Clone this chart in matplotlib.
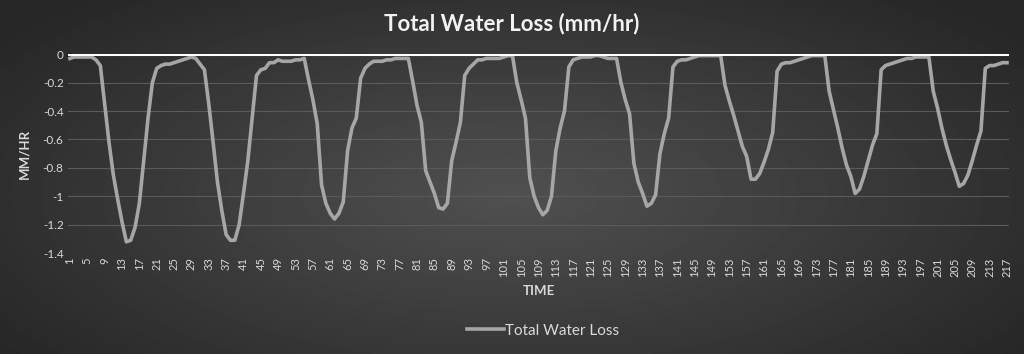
import numpy as np
import matplotlib.pyplot as plt

# data
time = list(range(1, 218))
water_loss = [
    -0.03, -0.02, -0.02, -0.02, -0.02, -0.02, -0.04, -0.08, -0.35, -0.62,
    -0.85, -1.02, -1.18, -1.32, -1.31, -1.22, -1.05, -0.75, -0.45, -0.20,
    -0.10, -0.08, -0.07, -0.07, -0.06, -0.05, -0.04, -0.03, -0.02, -0.03,
    -0.07, -0.11, -0.35, -0.62, -0.90, -1.10, -1.27, -1.31, -1.31, -1.20,
    -0.98, -0.75, -0.45, -0.15, -0.11, -0.10, -0.06, -0.06, -0.04, -0.05,
    -0.05, -0.05, -0.04, -0.04, -0.03, -0.18, -0.32, -0.49, -0.92, -1.05,
    -1.12, -1.16, -1.12, -1.04, -0.68, -0.52, -0.45, -0.17, -0.10, -0.07,
    -0.05, -0.05, -0.05, -0.04, -0.04, -0.03, -0.03, -0.03, -0.03, -0.19,
    -0.36, -0.48, -0.82, -0.90, -0.98, -1.08, -1.09, -1.05, -0.75, -0.62,
    -0.48, -0.15, -0.10, -0.07, -0.04, -0.04, -0.03, -0.03, -0.03, -0.03,
    -0.02, -0.01, -0.01, -0.20, -0.32, -0.45, -0.87, -1.00, -1.08, -1.13,
    -1.10, -1.00, -0.68, -0.52, -0.40, -0.09, -0.04, -0.03, -0.02, -0.02,
    -0.02, -0.01, -0.01, -0.02, -0.03, -0.03, -0.03, -0.20, -0.32, -0.42,
    -0.77, -0.90, -0.98, -1.07, -1.05, -0.99, -0.70, -0.56, -0.45, -0.09,
    -0.05, -0.04, -0.04, -0.03, -0.02, -0.01, -0.01, -0.01, -0.01, -0.01,
    -0.01, -0.22, -0.33, -0.43, -0.54, -0.65, -0.72, -0.88, -0.88, -0.84,
    -0.76, -0.67, -0.55, -0.12, -0.07, -0.06, -0.06, -0.05, -0.04, -0.03,
    -0.02, -0.01, -0.01, -0.01, -0.01, -0.26, -0.39, -0.52, -0.66, -0.78,
    -0.86, -0.98, -0.95, -0.86, -0.75, -0.64, -0.56, -0.11, -0.08, -0.07,
    -0.06, -0.05, -0.04, -0.03, -0.03, -0.02, -0.02, -0.02, -0.02, -0.26,
    -0.38, -0.52, -0.64, -0.74, -0.83, -0.93, -0.91, -0.85, -0.75, -0.64,
    -0.54, -0.10, -0.08, -0.08, -0.07, -0.06, -0.06,
]
x_ticks = list(range(1, 218, 4))
y_ticks = [0, -0.2, -0.4, -0.6, -0.8, -1, -1.2, -1.4]
y_tick_labels = ["0", "-0.2", "-0.4", "-0.6", "-0.8", "-1", "-1.2", "-1.4"]

plt.rcParams['font.family'] = ['Lato', 'DejaVu Sans']
txt = '#d9d9d9'

fig = plt.figure(figsize=(10.24, 3.54), dpi=100)

# radial gradient background
bg = fig.add_axes([0, 0, 1, 1], zorder=-10)
gx, gy = np.meshgrid(np.linspace(-1, 1, 512), np.linspace(-1, 1, 177))
r = np.sqrt((gx / 1.0) ** 2 + ((gy - 0.1) / 1.2) ** 2)
shade = np.clip(0.315 - 0.13 * r, 0.15, 0.32)
bg.imshow(shade, cmap='gray', vmin=0, vmax=1, aspect='auto',
          extent=[0, 1, 0, 1], interpolation='bilinear')
bg.axis('off')

ax = fig.add_axes([0.0662, 0.285, 0.9193, 0.562])
ax.patch.set_alpha(0)
ax.plot(time, water_loss, color='#a6a6a6', lw=2.6, label='Total Water Loss',
        solid_joinstyle='round')
ax.set_xlim(0.5, 217.5)
ax.set_ylim(-1.4, 0)
ax.set_xticks(x_ticks)
ax.set_xticklabels([str(t) for t in x_ticks], rotation=90, fontsize=8, color=txt)
ax.set_yticks(y_ticks)
ax.set_yticklabels(y_tick_labels, fontsize=8.5, color=txt)
ax.tick_params(length=0, pad=3)
ax.grid(axis='y', color='#5a5a5a', lw=0.8)
ax.axhline(0, color='white', lw=2.2, zorder=3)
for s in ax.spines.values():
    s.set_visible(False)

ax.set_ylabel('MM/HR', fontsize=9.5, fontweight='bold', color=txt, labelpad=9)
ax.set_xlabel('TIME', fontsize=9.5, fontweight='bold', color=txt, labelpad=6)

fig.text(0.5, 0.935, 'Total Water Loss (mm/hr)', ha='center', va='center',
         fontsize=16, fontweight='bold', color='#f2f2f2')

ax.legend(loc='center', bbox_to_anchor=(0.505, -0.39), frameon=False,
          fontsize=11, labelcolor=txt, handlelength=2.4, handletextpad=0.1)

fig.savefig('out.png', dpi=100)
